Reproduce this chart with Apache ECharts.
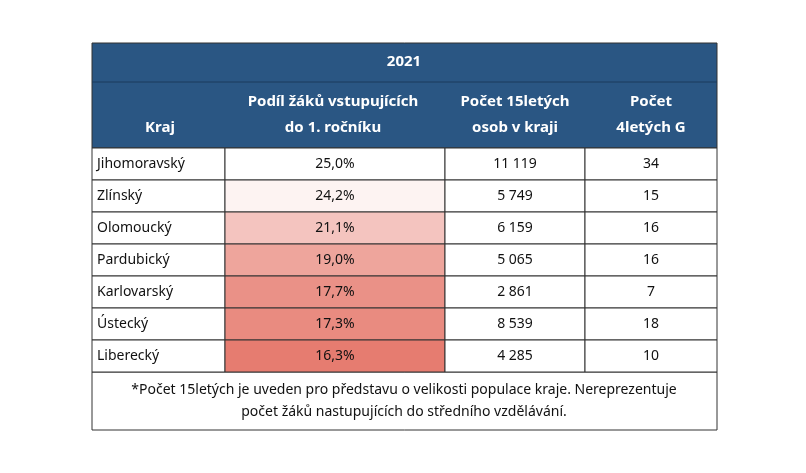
<!DOCTYPE html>
<html><head><meta charset="utf-8">
<script src="https://cdn.jsdelivr.net/npm/echarts@6/dist/echarts.min.js"></script>
<style>html,body{margin:0;background:#fff}#c{width:806px;height:473px}</style>
</head><body><div id="c"></div>
<script>
var title = '2021';
var headers = ['Kraj', 'Podíl žáků vstupujících\ndo 1. ročníku', 'Počet 15letých\nosob v kraji', 'Počet\n4letých G'];
var kraje = ['Jihomoravský', 'Zlínský', 'Olomoucký', 'Pardubický', 'Karlovarský', 'Ústecký', 'Liberecký'];
var podil = [25.0, 24.2, 21.1, 19.0, 17.7, 17.3, 16.3];
var pocet15 = ['11 119', '5 749', '6 159', '5 065', '2 861', '8 539', '4 285'];
var pocetG = [34, 15, 16, 16, 7, 18, 10];
var note = '*Počet 15letých je uveden pro představu o velikosti populace kraje. Nereprezentuje\npočet žáků nastupujících do středního vzdělávání.';

var edges = [0, 133, 353, 493, 625];
var font = '"Noto Sans", sans-serif';
var blue = '#2a5683';

function heat(v) {
  var t = (v - 16.3) / (25.0 - 16.3);
  var r = Math.round(230 + 25 * t), g = Math.round(124 + 131 * t), b = Math.round(112 + 143 * t);
  return 'rgb(' + r + ',' + g + ',' + b + ')';
}

var cells = [];
for (var i = 0; i < kraje.length; i++) for (var c = 0; c < 4; c++) cells.push([c, i]);

function cellText(c, i) {
  if (c == 0) return kraje[i];
  if (c == 1) return podil[i].toFixed(1).replace('.', ',') + '%';
  if (c == 2) return pocet15[i];
  return String(pocetG[i]);
}

var chart = echarts.init(document.getElementById('c'));
chart.setOption({
  animation: false,
  grid: {left: 92, right: 89, top: 148, bottom: 101},
  xAxis: {type: 'value', min: 0, max: 625, show: false},
  yAxis: {type: 'category', data: kraje, inverse: true, show: false},
  graphic: [
    {type: 'rect', shape: {x: 92, y: 43, width: 625, height: 105}, style: {fill: blue, stroke: '#333', lineWidth: 1}},
    {type: 'line', shape: {x1: 92, y1: 82, x2: 717, y2: 82}, style: {stroke: '#1b3a5c', lineWidth: 1}},
    {type: 'text', x: 404, y: 62, style: {text: title, fill: '#fff', font: 'bold 15px ' + font, align: 'center', verticalAlign: 'middle'}},
    {type: 'text', x: 160, y: 128, style: {text: headers[0], fill: '#fff', font: 'bold 15px ' + font, align: 'center', verticalAlign: 'middle'}},
    {type: 'text', x: 333, y: 115, style: {text: headers[1], fill: '#fff', font: 'bold 15px ' + font, align: 'center', verticalAlign: 'middle', lineHeight: 26}},
    {type: 'text', x: 515, y: 115, style: {text: headers[2], fill: '#fff', font: 'bold 15px ' + font, align: 'center', verticalAlign: 'middle', lineHeight: 26}},
    {type: 'text', x: 651, y: 115, style: {text: headers[3], fill: '#fff', font: 'bold 15px ' + font, align: 'center', verticalAlign: 'middle', lineHeight: 26}},
    {type: 'rect', shape: {x: 92, y: 372, width: 625, height: 58}, style: {fill: '#fff', stroke: '#333', lineWidth: 1}},
    {type: 'text', x: 404, y: 401, style: {text: note, fill: '#111', font: '14px ' + font, align: 'center', verticalAlign: 'middle', lineHeight: 22}}
  ],
  series: [{
    type: 'custom',
    data: cells,
    renderItem: function (params, api) {
      var c = api.value(0), i = api.value(1);
      var p0 = api.coord([edges[c], i]), p1 = api.coord([edges[c + 1], i]);
      var h = api.size([0, 1])[1];
      var fill = c == 1 ? heat(podil[i]) : '#fff';
      return {type: 'group', children: [
        {type: 'rect', shape: {x: p0[0], y: p0[1] - h / 2, width: p1[0] - p0[0], height: h},
         style: {fill: fill, stroke: '#333', lineWidth: 1}},
        {type: 'text', x: c == 0 ? p0[0] + 5 : (p0[0] + p1[0]) / 2, y: p0[1],
         style: {text: cellText(c, i), fill: '#111', font: '14px ' + font,
                 align: c == 0 ? 'left' : 'center', verticalAlign: 'middle'}}
      ]};
    }
  }]
});
</script></body></html>
